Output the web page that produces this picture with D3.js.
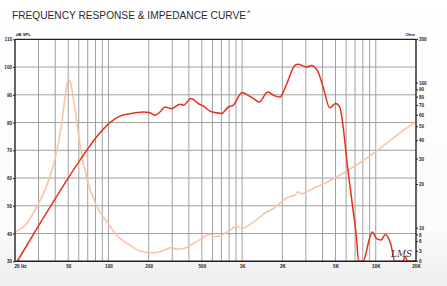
<!DOCTYPE html>
<html><head><meta charset="utf-8">
<script src="https://cdn.jsdelivr.net/npm/d3@7"></script>
<style>html,body{margin:0;padding:0;background:#fff;}svg{display:block;}</style>
</head><body>
<svg id="c" width="447" height="286"></svg>
<script>
// ---- data ----
const freqTicks = [20,50,100,200,500,1000,2000,5000,10000,20000];
const freqTickLabels = ["20 Hz","50","100","200","500","1K","2K","5K","10K","20K"];
const splTicks = [30,40,50,60,70,80,90,100,110];
const ohmTicks = [0,3,6,8,10,20,30,40,50,60,70,80,90,100,200];

const splFreq = [20.8,32,50,62.4,83.4,102.6,122,145,182,205,223,245,265,297,343,364,414,483,510,575,626,703,790,857,1002,1110,1213,1340,1556,1757,1920,2160,2480,2630,3030,3300,3710,4100,4520,5020,5380,5640,6170,6740,7140,7440,8030,9000,9450,10100,11000,11800,13000,13900,16000,16600,17300,20000];
const splDb   = [30,45,60,67,75.4,80,82.3,83.2,83.8,83.5,82.6,84,85.6,85,86.6,86.2,88.7,86.5,86,84.1,83.6,83.3,85.6,86.2,90.8,89.8,88.7,87.4,91,89.6,89.2,94,100.6,101,100,100.6,98.2,91.6,85.3,86.9,85.6,80.2,63.5,49.1,39.5,30,30,38.3,40.6,38.3,37.7,39.7,35.9,30,30,31.7,30,30];

const impFreq = [20,24.5,29,34.6,39.9,44.9,48.1,50.3,51.8,56.2,61.3,69,81,99.7,115,145,172,205,243,280,297,322,364,433,500,575,626,703,810,910,1000,1180,1490,1760,1970,2220,2480,2630,2790,3230,3630,4190,6160,9900,13800,20000];
const impOhm  = [8.9,10.8,14.0,19.8,30.2,53.9,89,107,102,66.7,37.2,22,14.4,10.8,7.9,4.9,3.1,2.6,2.9,3.9,4.2,3.7,3.9,5.4,6.9,8.2,7.5,7.9,9.4,10.3,10.0,10.8,12.8,13.9,15.2,16.4,16.9,17.8,17.3,18.3,19.3,20.5,25,33.5,42.5,54.5];

// ---- layout ----
const L = 15, R = 416, T = 39.3, B = 261.3, Y10 = 228.3;
const svg = d3.select("#c");

const defs = svg.append("defs");
const g = defs.append("linearGradient").attr("id","bg").attr("x1",0).attr("y1",0).attr("x2",0).attr("y2",1);
g.append("stop").attr("offset","0%").attr("stop-color","#ffffff");
g.append("stop").attr("offset","80%").attr("stop-color","#fbfbfb");
g.append("stop").attr("offset","100%").attr("stop-color","#eeeef0");
svg.append("rect").attr("width",447).attr("height",286).attr("fill","url(#bg)");
svg.append("rect").attr("x",L).attr("y",T).attr("width",R-L).attr("height",B-T).attr("fill","#fff");

const x = d3.scaleLog().domain([20,20000]).range([L,R]);
const y = d3.scaleLinear().domain([30,110]).range([B,T]);
const ohmLog = d3.scaleLog().domain([10,200]).range([Y10,T]);
const ohmLin = d3.scaleLinear().domain([0,10]).range([B,Y10]);
const yo = v => v >= 10 ? ohmLog(v) : ohmLin(v);

// grid
const vGrid = [];
[10,100,1000,10000].forEach(d => { for (let k=1;k<10;k++){ const f=d*k; if (f>20 && f<20000) vGrid.push(f);} });
svg.append("g").selectAll("line").data(vGrid).join("line")
  .attr("x1",d=>x(d)).attr("x2",d=>x(d)).attr("y1",T).attr("y2",B)
  .attr("stroke","#a0a0a0").attr("stroke-width",1);
svg.append("g").selectAll("line").data(splTicks.slice(1,-1)).join("line")
  .attr("x1",L).attr("x2",R).attr("y1",d=>y(d)).attr("y2",d=>y(d))
  .attr("stroke","#a0a0a0").attr("stroke-width",1);

// curves
const lineSpl = d3.line().x((d,i)=>x(splFreq[i])).y(d=>y(Math.max(30,d))).curve(d3.curveMonotoneX);
const lineImp = d3.line().x((d,i)=>x(impFreq[i])).y(d=>yo(d)).curve(d3.curveMonotoneX);
svg.append("path").attr("d",lineImp(impOhm)).attr("fill","none").attr("stroke","#f9c3a6").attr("stroke-width",1.6);
svg.append("path").attr("d",lineSpl(splDb)).attr("fill","none").attr("stroke","#e6301c").attr("stroke-width",1.5);

// frame
svg.append("line").attr("x1",L).attr("x2",R).attr("y1",T).attr("y2",T).attr("stroke","#222").attr("stroke-width",1.2);
svg.append("line").attr("x1",L).attr("x2",R).attr("y1",B).attr("y2",B).attr("stroke","#222").attr("stroke-width",1.4);
svg.append("line").attr("x1",L).attr("x2",L).attr("y1",T).attr("y2",B).attr("stroke","#222").attr("stroke-width",1.4);
svg.append("line").attr("x1",R).attr("x2",R).attr("y1",T).attr("y2",B).attr("stroke","#222").attr("stroke-width",1.4);

// axes
const axL = d3.axisLeft(y).tickValues(splTicks).tickSize(2).tickPadding(1).tickFormat(d3.format("d"));
const axR = d3.axisRight(d3.scaleLinear().domain([0,1]).range([0,1])); // placeholder not used
const gl = svg.append("g").attr("transform",`translate(${L},0)`).call(axL);
gl.select(".domain").remove();
gl.selectAll("text").attr("font-size",4.6).attr("font-weight","bold").attr("font-family","Liberation Sans, Arial").attr("fill","#222");
gl.selectAll("line").attr("stroke","#222");

const gr = svg.append("g");
gr.selectAll("line").data(ohmTicks).join("line")
  .attr("x1",R).attr("x2",R+2).attr("y1",d=>yo(d)).attr("y2",d=>yo(d)).attr("stroke","#222");
gr.selectAll("text").data(ohmTicks).join("text")
  .attr("x",R+3).attr("y",d=>yo(d)).attr("dy","0.35em")
  .attr("font-size",4.6).attr("font-weight","bold").attr("font-family","Liberation Sans, Arial").attr("fill","#222")
  .text(d=>d);

const axB = d3.axisBottom(x).tickValues(freqTicks).tickSize(0).tickPadding(3).tickFormat((d,i)=>freqTickLabels[i]);
const gb = svg.append("g").attr("transform",`translate(0,${B})`).call(axB);
gb.select(".domain").remove();
gb.selectAll("text").attr("font-size",4.6).attr("font-weight","bold").attr("font-family","Liberation Sans, Arial").attr("fill","#222");
gb.selectAll("text").filter((d,i)=>i===0).attr("text-anchor","start").attr("dx",-1);

// unit labels
svg.append("text").attr("x",L+1).attr("y",35.5).attr("font-size",4.2).attr("font-weight","bold")
  .attr("font-family","Liberation Sans, Arial").attr("fill","#222").text("dB SPL");
svg.append("text").attr("x",R-1).attr("y",35.5).attr("text-anchor","end").attr("font-size",4.2).attr("font-weight","bold")
  .attr("font-family","Liberation Sans, Arial").attr("fill","#222").text("Ohm");

// title
svg.append("text").attr("x",12).attr("y",19.3).attr("font-size",10).attr("font-family","Liberation Sans, Arial")
  .attr("fill","#2a2a2a").attr("textLength",234).attr("lengthAdjust","spacingAndGlyphs")
  .text("FREQUENCY RESPONSE & IMPEDANCE CURVE");
svg.append("text").attr("x",247).attr("y",14).attr("font-size",6).attr("font-weight","bold")
  .attr("font-family","Liberation Sans, Arial").attr("fill","#2a2a2a").text("^");

// signature
svg.append("text").attr("x",391).attr("y",256.5).attr("font-size",8.5).attr("font-style","italic")
  .attr("font-family","DejaVu Serif").attr("fill","#333").attr("textLength",21).attr("lengthAdjust","spacingAndGlyphs")
  .text("LMS");
</script>
</body></html>
